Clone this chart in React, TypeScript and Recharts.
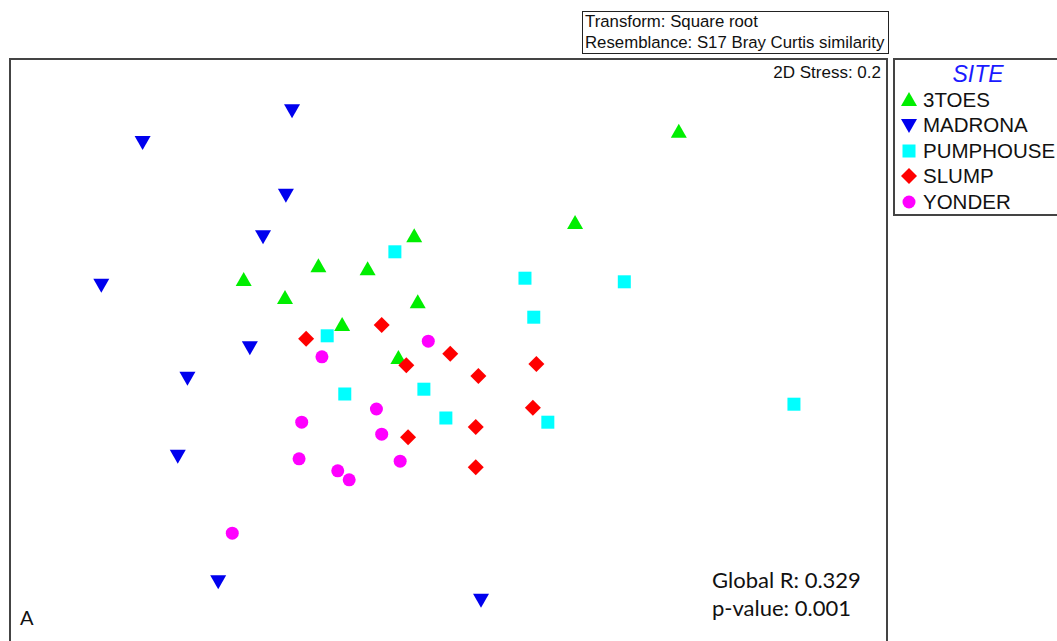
import React from 'react';
import { ScatterChart, Scatter, XAxis, YAxis, Legend } from 'recharts';

// NMDS ordination scores (arbitrary 0-100 units)
type Pt = { x: number; y: number };

const threeToes: Pt[] = [
  { x: 76.2, y: 87.7 }, { x: 64.4, y: 72.5 }, { x: 46.1, y: 70.3 }, { x: 35.2, y: 65.3 },
  { x: 40.8, y: 64.8 }, { x: 26.7, y: 63.0 }, { x: 31.4, y: 60.0 }, { x: 46.5, y: 59.3 },
  { x: 37.9, y: 55.5 }, { x: 44.3, y: 50.0 },
];
const madrona: Pt[] = [
  { x: 32.2, y: 91.3 }, { x: 15.2, y: 86.0 }, { x: 31.5, y: 77.2 }, { x: 28.9, y: 70.3 },
  { x: 10.5, y: 62.2 }, { x: 27.4, y: 51.8 }, { x: 20.3, y: 46.7 }, { x: 19.2, y: 33.7 },
  { x: 23.8, y: 12.8 }, { x: 53.7, y: 9.7 },
];
const pumphouse: Pt[] = [
  { x: 43.9, y: 67.7 }, { x: 58.7, y: 63.3 }, { x: 70.0, y: 62.7 }, { x: 59.7, y: 56.8 },
  { x: 36.2, y: 53.7 }, { x: 47.2, y: 44.8 }, { x: 38.2, y: 44.0 }, { x: 49.7, y: 40.0 },
  { x: 61.3, y: 39.3 }, { x: 89.3, y: 42.3 },
];
const slump: Pt[] = [
  { x: 33.8, y: 53.2 }, { x: 42.4, y: 55.5 }, { x: 50.2, y: 50.7 }, { x: 45.2, y: 48.8 },
  { x: 53.4, y: 47.0 }, { x: 60.0, y: 49.0 }, { x: 59.6, y: 41.7 }, { x: 53.1, y: 38.5 },
  { x: 45.4, y: 36.8 }, { x: 53.1, y: 31.8 },
];
const yonder: Pt[] = [
  { x: 47.7, y: 52.8 }, { x: 35.6, y: 50.2 }, { x: 41.8, y: 41.5 }, { x: 33.3, y: 39.3 },
  { x: 42.4, y: 37.3 }, { x: 33.0, y: 33.2 }, { x: 44.5, y: 32.8 }, { x: 37.4, y: 31.2 },
  { x: 38.7, y: 29.7 }, { x: 25.4, y: 20.8 },
];

const siteNames = ['3TOES', 'MADRONA', 'PUMPHOUSE', 'SLUMP', 'YONDER'];
const siteColors = ['#00ee00', '#0000ee', '#00ffff', '#ff0000', '#ff00ff'];
const siteShapes = ['up', 'down', 'square', 'diamond', 'circle'];
const siteData = [threeToes, madrona, pumphouse, slump, yonder];

const FONT = '"Liberation Sans", Arial, sans-serif';
const NOTE_FONT = 'Lato, "Open Sans", sans-serif';

function marker(kind: string, cx: number, cy: number, fill: string) {
  switch (kind) {
    case 'up':
      return <polygon points={`${cx},${cy - 8} ${cx + 8},${cy + 6} ${cx - 8},${cy + 6}`} fill={fill} />;
    case 'down':
      return <polygon points={`${cx - 8},${cy - 6} ${cx + 8},${cy - 6} ${cx},${cy + 8}`} fill={fill} />;
    case 'square':
      return <rect x={cx - 6.5} y={cy - 6.5} width={13} height={13} fill={fill} />;
    case 'diamond':
      return <polygon points={`${cx},${cy - 8} ${cx + 8},${cy} ${cx},${cy + 8} ${cx - 8},${cy}`} fill={fill} />;
    default:
      return <circle cx={cx} cy={cy} r={6.5} fill={fill} />;
  }
}

function SiteLegend() {
  return (
    <div
      style={{
        width: 172, height: 158, border: '2px solid #444', background: '#fff',
        fontFamily: FONT, boxSizing: 'border-box',
      }}
    >
      <div style={{ width: 166, textAlign: 'center', color: '#1a1aff', fontStyle: 'italic', fontSize: 23, lineHeight: '26px', marginTop: 1 }}>
        SITE
      </div>
      {siteNames.map((name, i) => (
        <div key={name} style={{ display: 'flex', alignItems: 'center', height: 25.5 }}>
          <svg width={28} height={20} style={{ flex: 'none' }}>
            {marker(siteShapes[i], 14, 10, siteColors[i])}
          </svg>
          <span style={{ fontSize: 20.5, color: '#111', whiteSpace: 'nowrap' }}>{name}</span>
        </div>
      ))}
    </div>
  );
}

export default function App() {
  return (
    <div style={{ position: 'absolute', left: 0, top: 0, width: 1057, height: 641, overflow: 'hidden', background: '#fff' }}>
      <div
        style={{
          position: 'absolute', left: 582, top: 11, width: 307, height: 43, border: '1.5px solid #222',
          boxSizing: 'border-box', fontFamily: FONT, fontSize: 16.8, lineHeight: '20.5px', paddingLeft: 2,
          color: '#111', whiteSpace: 'nowrap',
        }}
      >
        <div>Transform: Square root</div>
        <div>Resemblance: S17 Bray Curtis similarity</div>
      </div>

      <ScatterChart width={1057} height={658} margin={{ top: 58, left: 9, right: 169, bottom: 0 }}>
        <XAxis type="number" dataKey="x" domain={[0, 100]} hide />
        <YAxis type="number" dataKey="y" domain={[0, 100]} hide />
        <Legend
          layout="horizontal"
          verticalAlign="middle"
          align="center"
          content={() => <SiteLegend />}
          wrapperStyle={{ position: 'absolute', left: 893, top: 58, width: 172, height: 158 }}
        />
        {siteData.map((d, i) => (
          <Scatter
            key={siteNames[i]}
            name={siteNames[i]}
            data={d}
            fill={siteColors[i]}
            isAnimationActive={false}
            shape={(p: any) => marker(siteShapes[i], p.cx, p.cy, siteColors[i])}
          />
        ))}
      </ScatterChart>

      <div
        style={{
          position: 'absolute', left: 9, top: 58, width: 879, height: 600, border: '2px solid #444',
          boxSizing: 'border-box', pointerEvents: 'none',
        }}
      />
      <div style={{ position: 'absolute', right: 1057 - 881, top: 63, fontFamily: FONT, fontSize: 17, color: '#111' }}>
        2D Stress: 0.2
      </div>
      <div style={{ position: 'absolute', left: 712, top: 566, fontFamily: NOTE_FONT, fontSize: 22, lineHeight: '28px', color: '#111' }}>
        <div>Global R: 0.329</div>
        <div>p-value: 0.001</div>
      </div>
      <div style={{ position: 'absolute', left: 20, top: 605, fontFamily: NOTE_FONT, fontSize: 20, color: '#111' }}>
        A
      </div>
    </div>
  );
}
